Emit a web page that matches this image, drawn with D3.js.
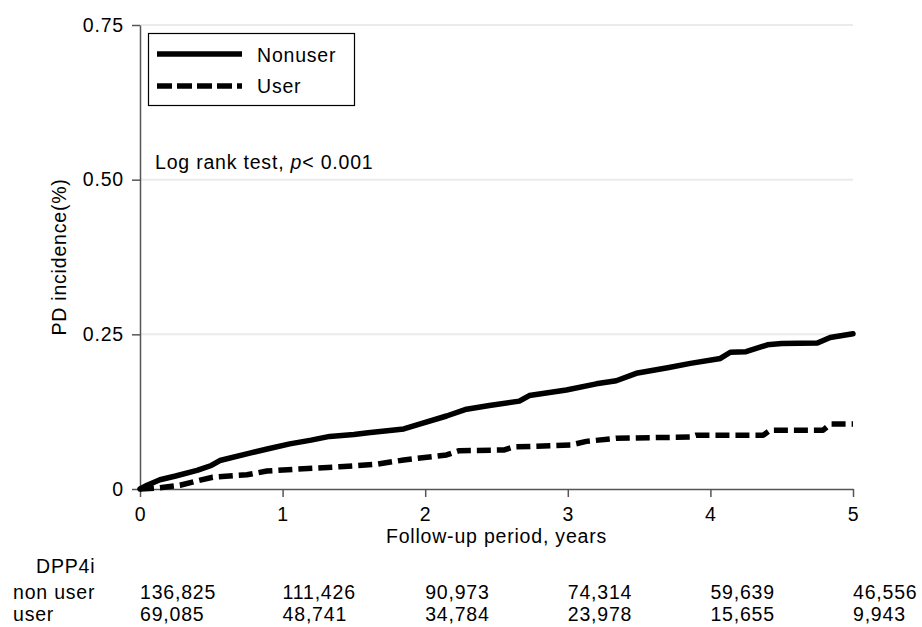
<!DOCTYPE html>
<html lang="en">
<head>
    <meta charset="UTF-8">
    <title>PD incidence by DPP4i use</title>
    <style>
        body {
            margin: 0;
            background: #fff;
        }
        svg text {
            font-family: "Liberation Sans", Arial, sans-serif;
            font-size: 19.5px;
            letter-spacing: 0.8px;
            fill: #000;
        }
        .grid line {
            stroke: #ebebeb;
            stroke-width: 2px;
        }
        .axis path, .axis line {
            stroke: #555;
            stroke-width: 1.5px;
        }
        .curve {
            fill: none;
            stroke: #000;
            stroke-width: 5.5px;
            stroke-linejoin: round;
        }
    </style>
</head>
<body>
    <svg width="922" height="627"></svg>
    <script src="https://d3js.org/d3.v7.min.js"></script>
    <script>
        // cumulative incidence (%)
        const nonuserTime = [0, 0.05, 0.14, 0.25, 0.40, 0.50, 0.56, 0.77, 0.90, 1.05, 1.20, 1.33, 1.50, 1.60, 1.85, 1.96, 2.15, 2.29, 2.45, 2.66, 2.73, 2.99, 3.20, 3.34, 3.48, 3.70, 3.86, 4.07, 4.14, 4.25, 4.40, 4.50, 4.75, 4.84, 5.0];
        const nonuserValue = [0, 0.006, 0.015, 0.021, 0.030, 0.038, 0.046, 0.058, 0.065, 0.073, 0.079, 0.085, 0.088, 0.091, 0.097, 0.105, 0.118, 0.129, 0.135, 0.142, 0.151, 0.160, 0.170, 0.175, 0.187, 0.196, 0.203, 0.211, 0.221, 0.222, 0.233, 0.235, 0.236, 0.245, 0.251];
        const userTime = [0, 0.14, 0.28, 0.40, 0.51, 0.75, 0.89, 1.10, 1.40, 1.66, 1.85, 2.15, 2.24, 2.55, 2.62, 3.02, 3.13, 3.34, 3.86, 3.90, 4.37, 4.42, 4.79, 4.84, 5.0];
        const userValue = [0, 0.002, 0.006, 0.013, 0.019, 0.023, 0.029, 0.032, 0.036, 0.040, 0.047, 0.055, 0.062, 0.063, 0.068, 0.071, 0.077, 0.082, 0.084, 0.087, 0.087, 0.095, 0.095, 0.105, 0.105];

        // number at risk
        const riskYears = [0, 1, 2, 3, 4, 5];
        const nonuserRisk = ["136,825", "111,426", "90,973", "74,314", "59,639", "46,556"];
        const userRisk = ["69,085", "48,741", "34,784", "23,978", "15,655", "9,943"];

        const yTicks = [0, 0.25, 0.5, 0.75];
        const yTickLabels = ["0", "0.25", "0.50", "0.75"];

        const svg = d3.select("svg");
        const plotLeft = 140, plotRight = 853, plotTop = 25, plotBottom = 489;

        const x = d3.scaleLinear().domain([0, 5]).range([plotLeft, plotRight]);
        const y = d3.scaleLinear().domain([0, 0.75]).range([plotBottom, plotTop]);

        svg.append("g")
            .attr("class", "grid")
            .selectAll("line")
            .data(yTicks.slice(1))
            .enter().append("line")
            .attr("x1", plotLeft).attr("x2", plotRight)
            .attr("y1", d => y(d)).attr("y2", d => y(d));

        svg.append("g")
            .attr("class", "axis")
            .attr("transform", "translate(0," + plotBottom + ")")
            .call(d3.axisBottom(x).tickValues(riskYears).tickFormat(d3.format("d"))
                .tickSize(8).tickPadding(10).tickSizeOuter(0))
            .call(g => g.attr("font-size", null).attr("font-family", null));

        svg.append("g")
            .attr("class", "axis")
            .attr("transform", "translate(" + plotLeft + ",0)")
            .call(d3.axisLeft(y).tickValues(yTicks).tickFormat((d, i) => yTickLabels[i])
                .tickSize(8).tickPadding(8).tickSizeOuter(0))
            .call(g => g.attr("font-size", null).attr("font-family", null));

        const line = d3.line().x(d => x(d[0])).y(d => y(d[1]));

        svg.append("path")
            .attr("class", "curve")
            .attr("stroke-linecap", "round")
            .attr("d", line(d3.zip(nonuserTime, nonuserValue)));

        svg.append("path")
            .attr("class", "curve")
            .attr("stroke-dasharray", "14,6")
            .attr("d", line(d3.zip(userTime, userValue)));

        // legend
        const legend = svg.append("g");
        legend.append("rect")
            .attr("x", 148.5).attr("y", 33.5)
            .attr("width", 206).attr("height", 72)
            .attr("fill", "#fff").attr("stroke", "#000").attr("stroke-width", 1.2);
        const legendItems = [
            { name: "Nonuser", dash: null, ly: 54, ty: 62 },
            { name: "User", dash: "15,5", ly: 86, ty: 93 }
        ];
        legendItems.forEach(it => {
            legend.append("line")
                .attr("x1", 157).attr("x2", 242)
                .attr("y1", it.ly).attr("y2", it.ly)
                .attr("stroke", "#000").attr("stroke-width", 5.5)
                .attr("stroke-dasharray", it.dash);
            legend.append("text")
                .attr("x", 257).attr("y", it.ty)
                .text(it.name);
        });

        const lr = svg.append("text").attr("x", 155).attr("y", 169);
        lr.append("tspan").text("Log rank test, ");
        lr.append("tspan").attr("font-style", "italic").text("p");
        lr.append("tspan").text("< 0.001");

        svg.append("text")
            .attr("transform", "translate(66," + ((plotTop + plotBottom) / 2) + ") rotate(-90)")
            .attr("text-anchor", "middle")
            .text("PD incidence(%)");

        svg.append("text")
            .attr("x", (plotLeft + plotRight) / 2).attr("y", 543)
            .attr("text-anchor", "middle")
            .text("Follow-up period, years");

        // risk table
        svg.append("text").attr("x", 36).attr("y", 573).text("DPP4i");
        svg.append("text").attr("x", 13).attr("y", 599).text("non user");
        svg.append("text").attr("x", 13).attr("y", 621).text("user");

        svg.append("g").selectAll("text")
            .data(nonuserRisk)
            .enter().append("text")
            .attr("x", (d, i) => x(riskYears[i]))
            .attr("y", 599)
            .text(d => d);

        svg.append("g").selectAll("text")
            .data(userRisk)
            .enter().append("text")
            .attr("x", (d, i) => x(riskYears[i]))
            .attr("y", 621)
            .text(d => d);
    </script>
</body>
</html>
